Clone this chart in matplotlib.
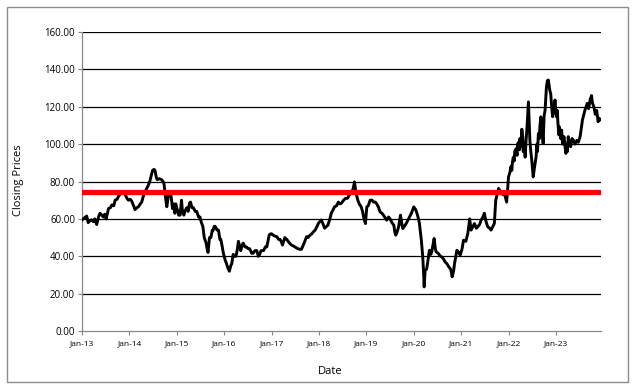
import matplotlib
matplotlib.use("Agg")
import matplotlib.pyplot as plt   # graphiques
import matplotlib.dates as mdates
from matplotlib.patches import Rectangle
import numpy as np
import pandas as pd

plt.rcParams['font.family'] = ['Open Sans', 'DejaVu Sans']

# Dates (annee decimale) et cours de cloture, 2013 -> 2021
years_a = [
    2013.00, 2013.05, 2013.10, 2013.13, 2013.17, 2013.20, 2013.24, 2013.27, 2013.31, 2013.35,
    2013.38, 2013.42, 2013.45, 2013.48, 2013.51, 2013.56, 2013.60, 2013.63, 2013.67, 2013.70,
    2013.74, 2013.77, 2013.81, 2013.84, 2013.88, 2013.91, 2013.95, 2013.98, 2014.02, 2014.05,
    2014.09, 2014.12, 2014.16, 2014.19, 2014.23, 2014.26, 2014.31, 2014.36, 2014.40, 2014.43,
    2014.46, 2014.49, 2014.52, 2014.54, 2014.57, 2014.59, 2014.63, 2014.68, 2014.71, 2014.73,
    2014.76, 2014.79, 2014.82, 2014.85, 2014.87, 2014.89, 2014.91, 2014.94, 2014.96, 2014.98,
    2015.00, 2015.04, 2015.07, 2015.10, 2015.12, 2015.15, 2015.17, 2015.21, 2015.24, 2015.27,
    2015.29, 2015.32, 2015.35, 2015.39, 2015.42, 2015.46, 2015.49, 2015.52, 2015.55, 2015.58,
    2015.62, 2015.64, 2015.66, 2015.69, 2015.72, 2015.75, 2015.77, 2015.79, 2015.81, 2015.85,
    2015.88, 2015.91, 2015.93, 2015.96, 2015.98, 2016.02, 2016.05, 2016.08, 2016.11, 2016.14,
    2016.16, 2016.19, 2016.22, 2016.25, 2016.28, 2016.30, 2016.33, 2016.35, 2016.38, 2016.40,
    2016.44, 2016.47, 2016.51, 2016.54, 2016.58, 2016.61, 2016.65, 2016.69, 2016.72, 2016.74,
    2016.78, 2016.83, 2016.87, 2016.90, 2016.93, 2016.95, 2016.98, 2017.00, 2017.05, 2017.11,
    2017.15, 2017.18, 2017.21, 2017.23, 2017.26, 2017.28, 2017.32, 2017.35, 2017.38, 2017.42,
    2017.46, 2017.49, 2017.53, 2017.56, 2017.60, 2017.63, 2017.67, 2017.70, 2017.74, 2017.77,
    2017.80, 2017.85, 2017.88, 2017.92, 2017.96, 2017.99, 2018.05, 2018.09, 2018.12, 2018.16,
    2018.19, 2018.23, 2018.26, 2018.30, 2018.33, 2018.37, 2018.41, 2018.44, 2018.47, 2018.52,
    2018.56, 2018.60, 2018.66, 2018.70, 2018.72, 2018.75, 2018.78, 2018.82, 2018.85, 2018.89,
    2018.92, 2018.95, 2018.98, 2019.01, 2019.04, 2019.08, 2019.12, 2019.15, 2019.19, 2019.22,
    2019.26, 2019.29, 2019.33, 2019.36, 2019.40, 2019.43, 2019.47, 2019.50, 2019.54, 2019.58,
    2019.60, 2019.62, 2019.65, 2019.68, 2019.72, 2019.75, 2019.77, 2019.80, 2019.84, 2019.87,
    2019.91, 2019.95, 2020.00, 2020.04, 2020.07, 2020.10, 2020.12, 2020.16, 2020.19, 2020.21,
    2020.22, 2020.24, 2020.27, 2020.29, 2020.33, 2020.36, 2020.38, 2020.43, 2020.45, 2020.47,
    2020.52, 2020.56, 2020.59, 2020.63, 2020.66, 2020.70, 2020.74, 2020.78, 2020.81, 2020.84,
    2020.86, 2020.91, 2020.95, 2020.98, 2021.02, 2021.05, 2021.10, 2021.14, 2021.16, 2021.18,
    2021.21, 2021.25, 2021.28, 2021.32, 2021.35, 2021.39, 2021.42, 2021.46, 2021.49, 2021.52,
    2021.56, 2021.60, 2021.63, 2021.67, 2021.70, 2021.73, 2021.79, 2021.82, 2021.84, 2021.88,
    2021.91, 2021.94, 2021.96,
]
closing_a = [
    59.5, 60.5, 61.5, 58, 59, 59.5, 58.5, 60, 57, 61,
    63, 62, 61, 62.5, 60, 65.5, 66, 67.5, 67, 70,
    70.5, 72, 73.5, 74, 74, 73, 71, 70, 70.5, 69.5,
    67, 65, 66, 66.5, 68, 69, 73.5, 76, 78, 80,
    83, 86, 86.5, 86, 82, 81, 81.5, 81, 80, 79,
    72, 66.5, 72, 73, 74, 70, 65.5, 68, 63, 68,
    66, 62, 62, 70, 64, 62, 64, 66, 64, 68.5,
    69, 66, 66, 64, 64, 61, 61, 58, 56, 50,
    47, 44, 42, 50, 50, 54, 54, 56, 56, 54,
    54, 49, 49, 45, 42, 38, 36, 33.6, 32, 35,
    36, 41, 40, 40, 44, 48, 45, 43, 46, 47,
    45, 45, 44, 44, 41.6, 41.6, 43, 43, 40, 40.5,
    43, 43, 45, 45, 49, 51.4, 52, 52, 51, 50.5,
    49, 49, 47.5, 46, 48.5, 50, 49, 48, 47, 46,
    45.5, 45, 44.4, 44, 43.7, 43.7, 46, 48, 50.5, 50,
    51, 52, 53, 54, 56, 57.7, 59.4, 57, 55, 56,
    56.7, 60, 63, 65, 66.5, 67, 69, 68, 68.3, 70,
    71, 71, 73.6, 75, 76, 79.8, 74, 70, 68, 66.5,
    64, 60, 57.5, 66.4, 67, 70, 70, 69, 69, 68,
    66, 63.7, 63, 62, 60.5, 59.3, 61, 60, 58, 56.6,
    53, 51.3, 53, 55.7, 62, 57, 54.8, 56, 57.5, 59,
    61, 63, 66.4, 65, 62.8, 60, 57.5, 48.6, 39.7, 30,
    23.6, 32.5, 33, 36, 43.2, 41, 42.4, 49.5, 45, 42.4,
    41.5, 40, 39.7, 38.5, 37, 36, 34.3, 33, 29, 32,
    36, 43.2, 42, 40.6, 44, 48.6, 48, 52.2, 55.8, 60,
    54, 56, 57.5, 55, 55.8, 57, 59.3, 61, 63, 59,
    55.8, 55, 54, 56, 57.5, 70, 76.3, 75, 74.5, 73,
    73.6, 71, 69,
]
# 2022
years_b = [
    2022.00, 2022.03, 2022.05, 2022.07, 2022.08, 2022.10, 2022.12, 2022.13, 2022.16, 2022.18,
    2022.19, 2022.21, 2022.23, 2022.24, 2022.26, 2022.28, 2022.30, 2022.31, 2022.33, 2022.35,
    2022.37, 2022.39, 2022.42, 2022.44, 2022.45, 2022.47, 2022.49, 2022.52, 2022.55, 2022.58,
    2022.60, 2022.61, 2022.63, 2022.65, 2022.66, 2022.68, 2022.70, 2022.73, 2022.75, 2022.77,
    2022.80, 2022.82, 2022.84, 2022.87, 2022.89, 2022.91, 2022.93, 2022.96, 2022.98,
]
closing_b = [
    82.5, 85, 88, 86, 90, 93, 91, 96, 97.6, 94,
    100, 101, 97, 103, 98.5, 108, 104, 96, 101, 93,
    102, 109, 122.6, 108, 102, 96, 91.4, 82.5, 88, 93,
    100, 96, 105.7, 103, 109, 114.6, 110, 100.3, 115, 118,
    130.7, 134, 134.3, 128.8, 127, 120, 114.7, 119, 123.6,
]
# 2023
years_c = [
    2023.01, 2023.03, 2023.04, 2023.06, 2023.07, 2023.10, 2023.12, 2023.14, 2023.17, 2023.19,
    2023.21, 2023.23, 2023.24, 2023.26, 2023.28, 2023.31, 2023.34, 2023.37, 2023.40, 2023.44,
    2023.47, 2023.51, 2023.56, 2023.61, 2023.66, 2023.69, 2023.72, 2023.75, 2023.77, 2023.80,
    2023.83, 2023.86, 2023.89, 2023.91, 2023.95,
]
closing_c = [
    114.7, 118, 112, 105, 109.3, 103, 107.5, 100, 104, 99,
    95, 100, 96, 104, 101, 98.6, 103, 102, 100, 102,
    101, 104, 113, 118, 121.8, 119, 123.6, 126, 122, 120,
    116, 118, 112, 113.8, 113,
]
threshold = 74.3   # niveau de la ligne rouge
y_ticks = [0, 20, 40, 60, 80, 100, 120, 140, 160]

years = years_a + years_b + years_c
closing = closing_a + closing_b + closing_c

# Conversion des annees decimales en dates
start = pd.Timestamp('2013-01-01')
dates = start + pd.to_timedelta((np.array(years) - 2013.0) * 365.25, unit='D')

fig = plt.figure(figsize=(6.33, 3.88), dpi=100)
ax = fig.add_axes([0.1295, 0.1469, 0.82, 0.7706])

# Grille horizontale noire
for v in y_ticks[1:]:
    ax.axhline(v, color='black', lw=0.9, zorder=1)

ax.plot(dates, closing, color='black', lw=2.1, zorder=3)
ax.axhline(threshold, color='#ff0000', lw=3.8, zorder=4)

ax.set_ylim(0, 160)
ax.set_yticks(y_ticks)
ax.set_yticklabels([f"{v:.2f}" for v in y_ticks], fontsize=7)
ax.set_xlim(pd.Timestamp('2013-01-01'), pd.Timestamp('2023-12-15'))
ax.xaxis.set_major_locator(mdates.YearLocator())
ax.xaxis.set_major_formatter(mdates.DateFormatter('%b-%y'))
ax.tick_params(axis='x', labelsize=6, length=3, color='#888888', pad=4)
ax.tick_params(axis='y', length=3, color='#888888', pad=2)

for side in ['top', 'right']:
    ax.spines[side].set_visible(False)
for side in ['left', 'bottom']:
    ax.spines[side].set_color('#888888')
    ax.spines[side].set_linewidth(0.9)

fig.text(18 / 633, 1 - 180 / 388, "Closing Prices", rotation=90, fontsize=8,
         ha='center', va='center')
fig.text(330 / 633, 1 - 372 / 388, "Date", fontsize=8, ha='center', va='center')

# Cadre gris autour du graphique
fig.patches.append(Rectangle((7 / 633, 6 / 388), 621 / 633, 375 / 388,
                             transform=fig.transFigure, fill=False,
                             edgecolor='#8c8c8c', lw=1))

fig.savefig("out.png", dpi=100)
